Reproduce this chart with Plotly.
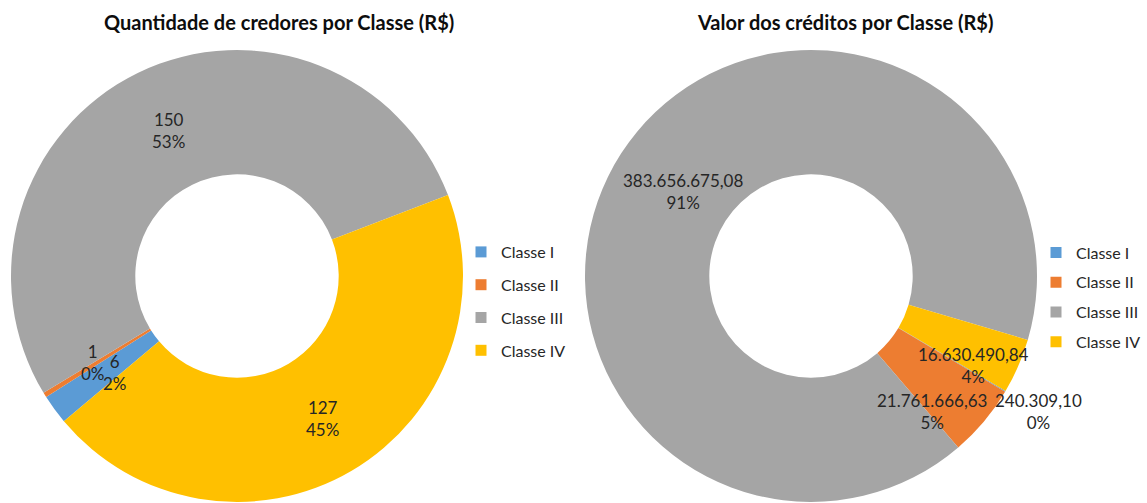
import math
import plotly.graph_objects as go

# ---------------- data ----------------
categories = ["Classe I", "Classe II", "Classe III", "Classe IV"]
credores = [6, 1, 150, 127]
creditos = [240309.10, 21761666.63, 383656675.08, 16630490.84]
title_left = "Quantidade de credores por Classe (R$)"
title_right = "Valor dos créditos por Classe (R$)"

# ---------------- style ----------------
colors = ["#5B9BD5", "#ED7D31", "#A5A5A5", "#FFC000"]
W, H = 1147, 503
FONT = "Lato, 'Open Sans', sans-serif"
TXT = "#262626"
HOLE = 0.45


def fmt_int(v):
    return f"{v:,.0f}".replace(",", ".")


def fmt_br(v):
    s = f"{v:,.2f}"
    return s.replace(",", "X").replace(".", ",").replace("X", ".")


charts = [
    dict(values=credores, fmt=fmt_int, cx=237, cy=276, R=226, rotation=230,
         offsets=[(10, 0), (-5, 0), (3, 2), (2, 1)],
         title=title_left, tx=279, legend="legend"),
    dict(values=creditos, fmt=fmt_br, cx=811, cy=276, R=226, rotation=120.6,
         offsets=[(87, 52), (-4, 30), (10, 4), (12, 24)],
         title=title_right, tx=845, legend="legend2"),
]

fig = go.Figure()
annotations = []

for ch in charts:
    cx, cy, R = ch["cx"], ch["cy"], ch["R"]
    fig.add_trace(go.Pie(
        labels=categories, values=ch["values"], hole=HOLE, sort=False,
        direction="clockwise", rotation=ch["rotation"],
        marker=dict(colors=colors, line=dict(width=0)),
        textinfo="none", hoverinfo="label+value+percent", showlegend=False,
        domain=dict(x=[(cx - R) / W, (cx + R) / W],
                    y=[1 - (cy + R) / H, 1 - (cy - R) / H]),
    ))
    total = sum(ch["values"])
    rm = R * (1 + HOLE) / 2
    acc = 0.0
    for v, (dx, dy) in zip(ch["values"], ch["offsets"]):
        mid = ch["rotation"] + 360 * (acc + v / 2) / total
        acc += v
        a = math.radians(mid)
        px = cx + rm * math.sin(a) + dx
        py = cy - rm * math.cos(a) + dy
        annotations.append(dict(
            x=px / W, y=1 - py / H, xref="paper", yref="paper",
            text=f"{ch['fmt'](v)}<br>{round(100 * v / total)}%",
            showarrow=False, xanchor="center", yanchor="middle", align="center",
            font=dict(family=FONT, size=17, color=TXT)))
    annotations.append(dict(
        x=ch["tx"] / W, y=1 - 22 / H, xref="paper", yref="paper",
        text=f"<b>{ch['title']}</b>", showarrow=False,
        xanchor="center", yanchor="middle",
        font=dict(family=FONT, size=20, color="#0d0d0d")))
    # legend entries
    for i, (cat, col) in enumerate(zip(categories, colors)):
        fig.add_trace(go.Scatter(
            x=[None], y=[None], mode="markers", name=cat,
            legendgroup=f"{ch['legend']}_{i}", legend=ch["legend"],
            marker=dict(symbol="square", size=11, color=col),
            hoverinfo="skip", showlegend=True))

fig.update_layout(
    width=W, height=H, margin=dict(l=0, r=0, t=0, b=0),
    paper_bgcolor="white", plot_bgcolor="white",
    xaxis=dict(visible=False), yaxis=dict(visible=False),
    annotations=annotations,
    legend=dict(x=461 / W, y=1 - 301.5 / H, xanchor="left", yanchor="middle",
                tracegroupgap=9, bgcolor="rgba(0,0,0,0)",
                font=dict(family=FONT, size=16, color=TXT)),
    legend2=dict(x=1036 / W, y=1 - 297.5 / H, xanchor="left", yanchor="middle",
                 tracegroupgap=6, bgcolor="rgba(0,0,0,0)",
                 font=dict(family=FONT, size=16, color=TXT)),
)

fig.write_html("out.html", config={"displayModeBar": False},
               post_script="document.body.style.margin='0';")
